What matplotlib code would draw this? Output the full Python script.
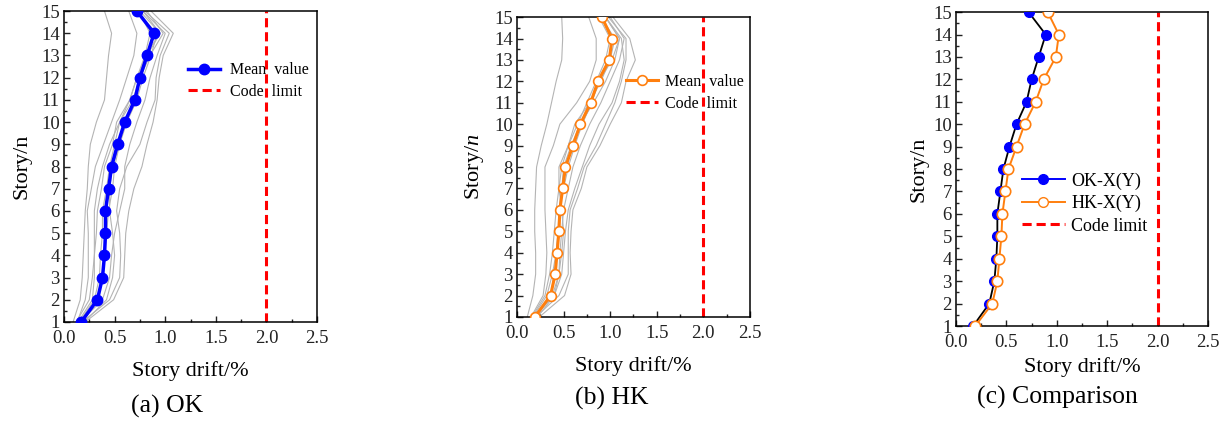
import numpy as np
import matplotlib
matplotlib.use('Agg')
import matplotlib.pyplot as plt
from matplotlib.lines import Line2D
from matplotlib.ticker import MultipleLocator, FormatStrFormatter

plt.rcParams['font.family'] = ['Liberation Serif', 'DejaVu Serif']
plt.rcParams['mathtext.fontset'] = 'custom'
plt.rcParams['mathtext.rm'] = 'Liberation Serif'
plt.rcParams['mathtext.it'] = 'Liberation Serif:italic'

# pisos
andares = np.arange(1, 16)

# media das respostas
media_ok = [0.17, 0.33, 0.38, 0.40, 0.41, 0.41, 0.44, 0.47, 0.53, 0.60, 0.70, 0.75, 0.82, 0.89, 0.72]
media_hk = [0.19, 0.36, 0.41, 0.43, 0.45, 0.46, 0.49, 0.52, 0.60, 0.68, 0.79, 0.87, 0.99, 1.02, 0.91]

# registros individuais (linhas cinzas)
registros_ok = [
    [0.09, 0.16, 0.18, 0.19, 0.20, 0.21, 0.23, 0.24, 0.26, 0.32, 0.40, 0.42, 0.44, 0.47, 0.40],
    [0.13, 0.21, 0.24, 0.24, 0.24, 0.23, 0.27, 0.31, 0.39, 0.47, 0.55, 0.62, 0.69, 0.72, 0.64],
    [0.21, 0.49, 0.59, 0.60, 0.61, 0.64, 0.69, 0.77, 0.82, 0.88, 0.92, 0.94, 0.98, 1.08, 0.86],
    [0.18, 0.45, 0.55, 0.56, 0.55, 0.52, 0.55, 0.62, 0.75, 0.82, 0.90, 0.91, 0.95, 1.04, 0.80],
    [0.16, 0.38, 0.45, 0.47, 0.50, 0.55, 0.60, 0.60, 0.65, 0.72, 0.80, 0.85, 0.92, 1.00, 0.78],
    [0.15, 0.30, 0.35, 0.36, 0.38, 0.38, 0.42, 0.45, 0.50, 0.55, 0.65, 0.72, 0.82, 0.95, 0.75],
    [0.14, 0.28, 0.30, 0.30, 0.30, 0.30, 0.33, 0.38, 0.45, 0.55, 0.68, 0.75, 0.85, 0.98, 0.82],
    [0.20, 0.42, 0.48, 0.50, 0.48, 0.45, 0.45, 0.48, 0.55, 0.62, 0.72, 0.78, 0.86, 0.92, 0.70],
    [0.17, 0.33, 0.38, 0.40, 0.42, 0.44, 0.48, 0.50, 0.55, 0.60, 0.70, 0.75, 0.80, 0.85, 0.74],
    [0.12, 0.25, 0.28, 0.30, 0.32, 0.33, 0.37, 0.40, 0.48, 0.52, 0.65, 0.72, 0.80, 0.95, 0.78],
]
registros_hk = [
    [0.11, 0.17, 0.20, 0.20, 0.19, 0.19, 0.20, 0.21, 0.26, 0.32, 0.37, 0.42, 0.48, 0.49, 0.48],
    [0.15, 0.28, 0.31, 0.32, 0.31, 0.30, 0.30, 0.30, 0.39, 0.46, 0.64, 0.78, 0.85, 0.85, 0.77],
    [0.24, 0.51, 0.58, 0.57, 0.58, 0.60, 0.69, 0.75, 0.89, 1.00, 1.12, 1.17, 1.27, 1.21, 1.03],
    [0.20, 0.45, 0.55, 0.55, 0.55, 0.57, 0.65, 0.72, 0.85, 0.95, 1.05, 1.12, 1.17, 1.17, 0.98],
    [0.18, 0.40, 0.48, 0.50, 0.52, 0.55, 0.62, 0.70, 0.78, 0.88, 1.02, 1.10, 1.15, 1.12, 0.95],
    [0.19, 0.38, 0.45, 0.46, 0.48, 0.50, 0.55, 0.60, 0.68, 0.78, 0.90, 1.00, 1.10, 1.15, 1.00],
    [0.17, 0.32, 0.38, 0.42, 0.45, 0.45, 0.48, 0.50, 0.58, 0.68, 0.82, 0.95, 1.05, 1.10, 0.95],
    [0.22, 0.40, 0.45, 0.48, 0.50, 0.48, 0.45, 0.45, 0.55, 0.62, 0.78, 0.90, 1.00, 1.05, 0.90],
    [0.16, 0.30, 0.35, 0.38, 0.40, 0.42, 0.45, 0.48, 0.55, 0.65, 0.75, 0.85, 0.95, 1.00, 0.88],
    [0.21, 0.36, 0.40, 0.42, 0.44, 0.45, 0.50, 0.55, 0.62, 0.70, 0.80, 0.88, 1.02, 1.10, 0.95],
]

limite = 2.0
azul = '#0000ff'
laranja = '#ff7f0e'
cinza = '#b4b4b4'
vermelho = '#ff0000'
tracejado = (0, (3, 1.6))

fig = plt.figure(figsize=(12.26, 4.23), dpi=100)
ax1 = fig.add_axes([0.0522, 0.2388, 0.2064, 0.735])
ax2 = fig.add_axes([0.4217, 0.2506, 0.190, 0.709])
ax3 = fig.add_axes([0.7798, 0.2293, 0.2055, 0.742])


def formatar(ax, ylabel, pad_x, pad_y):
    ax.set_xlim(0, 2.5)
    ax.set_ylim(1, 15)
    ax.xaxis.set_major_locator(MultipleLocator(0.5))
    ax.xaxis.set_minor_locator(MultipleLocator(0.25))
    ax.yaxis.set_major_locator(MultipleLocator(1))
    ax.yaxis.set_minor_locator(MultipleLocator(0.5))
    ax.xaxis.set_major_formatter(FormatStrFormatter('%.1f'))
    ax.tick_params(which='both', direction='in', width=1, labelsize=13.5, colors='#222222')
    ax.tick_params(which='major', length=4)
    ax.tick_params(which='minor', length=2)
    ax.tick_params(axis='x', pad=6)
    ax.tick_params(axis='y', pad=3)
    for s in ax.spines.values():
        s.set_linewidth(1.1)
    ax.set_xlabel('Story drift/%', fontsize=16, labelpad=pad_x)
    ax.set_ylabel(ylabel, fontsize=16, labelpad=pad_y)


# (a) OK
for r in registros_ok:
    ax1.plot(r, andares, color=cinza, lw=0.8, zorder=1)
ax1.plot(media_ok, andares, color=azul, lw=2.5, marker='o', ms=7.5, label='Mean  value', zorder=3)
ax1.axvline(limite, color=vermelho, lw=2.2, ls=tracejado, label='Code  limit', zorder=2)
formatar(ax1, 'Story/n', 10, 7)
ax1.legend(loc='upper left', bbox_to_anchor=(0.49, 0.835), frameon=False, fontsize=11.5,
           borderpad=0, borderaxespad=0, handlelength=2.0, handletextpad=0.6, labelspacing=0.35)

# (b) HK
for r in registros_hk:
    ax2.plot(r, andares, color=cinza, lw=0.8, zorder=1)
ax2.plot(media_hk, andares, color=laranja, lw=2.2, marker='o', ms=7, mfc='white',
         mec=laranja, mew=1.2, label='Mean  value', zorder=3)
ax2.axvline(limite, color=vermelho, lw=2.2, ls=tracejado, label='Code  limit', zorder=2)
formatar(ax2, 'Story/$n$', 10, 6)
ax2.legend(loc='upper left', bbox_to_anchor=(0.47, 0.81), frameon=False, fontsize=11.5,
           borderpad=0, borderaxespad=0, handlelength=2.0, handletextpad=0.4, labelspacing=0.35)

# (c) Comparacao
ax3.plot(media_ok, andares, color='black', lw=1.3, zorder=2)
ax3.plot(media_ok, andares, ls='none', marker='o', ms=7, color=azul, zorder=3)
ax3.plot(media_hk, andares, color=laranja, lw=1.4, marker='o', ms=7.5, mfc='white',
         mec=laranja, mew=1.2, zorder=3)
ax3.axvline(limite, color=vermelho, lw=2.2, ls=tracejado, zorder=2)
formatar(ax3, 'Story/n', 4, 3)
alcas = [
    Line2D([], [], color=azul, lw=1.4, marker='o', ms=7),
    Line2D([], [], color=laranja, lw=1.4, marker='o', ms=7, mfc='white', mec=laranja),
    Line2D([], [], color=vermelho, lw=2.2, ls=tracejado),
]
ax3.legend(alcas, ['OK-X(Y)', 'HK-X(Y)', 'Code limit'], loc='upper left',
           bbox_to_anchor=(0.26, 0.49), frameon=False, fontsize=13, borderpad=0,
           borderaxespad=0, handlelength=2.4, handletextpad=0.35, labelspacing=0.3)

# legendas dos paineis
fig.text(167 / 1226, 1 - 406 / 423, '(a) OK', fontsize=18.5, ha='center', va='center')
fig.text(612 / 1226, 1 - 398 / 423, '(b) HK', fontsize=18.5, ha='center', va='center')
fig.text(1057 / 1226, 1 - 397 / 423, '(c) Comparison', fontsize=18.5, ha='center', va='center')

fig.savefig('out.png', dpi=100)
